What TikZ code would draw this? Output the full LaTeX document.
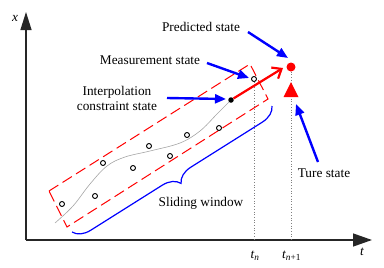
\documentclass[tikz,border=0pt]{standalone}
\usepackage{fontspec}
\setmainfont{Liberation Serif}
\usetikzlibrary{arrows.meta,decorations.pathreplacing}
\begin{document}
\begin{tikzpicture}[x=1pt,y=-1pt,
  lbl/.style={font=\fontsize{13.3}{15.5}\selectfont, inner sep=0pt},
  datapt/.style={circle,draw=black,line width=0.9pt,minimum size=5pt,inner sep=0pt},
  barrow/.style={blue,line width=2.4pt,-{Triangle[length=11pt,width=9pt]}},
  axis/.style={black!85,line width=1.3pt},
  guide/.style={gray,line width=0.7pt,dotted},
  window/.style={red,line width=1pt,dash pattern=on 11pt off 5pt}
]
\useasboundingbox (0,0) rectangle (384,268);
% axes
\coordinate (O) at (26,240);
\coordinate (Xend) at (372,240);
\coordinate (Yend) at (26,12);
\draw[axis,-{Triangle[length=19pt,width=13pt]}] (O) -- (Xend);
\draw[axis,-{Triangle[length=18pt,width=11pt]}] (O) -- (Yend);
\node[lbl,font=\fontsize{13.3}{15.5}\selectfont\itshape] (xl) at (15,18) {x};
\node[lbl,font=\fontsize{13.3}{15.5}\selectfont\itshape] (tl) at (362,252) {t};
% guides
\coordinate (tn) at (254,240);
\coordinate (tn1) at (291,240);
\node[datapt] (m) at (254,79) {};
\node[circle,fill=red,minimum size=9pt,inner sep=0pt] (pred) at (291,67) {};
\draw[guide] (m) -- (tn);
\draw[guide] (pred) -- (tn1);
\node[lbl,anchor=base] (tnl) at (255,258) {\itshape t\textsubscript{\itshape n}};
\node[lbl,anchor=base west] (tn1l) at (282,258) {\itshape t\textsubscript{\itshape n\upshape +1}};
% true state triangle
\fill[red] (291,82) -- (298.5,97) -- (283.5,97) -- cycle;
\coordinate (tri) at (296,104);
% window
\draw[window] (49,191) -- (250,64) -- (268,99) -- (67,227) -- cycle;
% curve
\draw[gray!70,line width=0.6pt] plot[smooth,tension=0.6] coordinates {(55,223) (73,206) (90,184) (107,166) (125,157) (150,151) (180,143) (200,131) (217,114) (231,100)};
% data points
\foreach \p/\q [count=\i] in {62/204,95/196,103/163,133/168,149/146,170/156,187/135,219/128}
  \node[datapt] (d\i) at (\p,\q) {};
\node[circle,fill=black,minimum size=5.5pt,inner sep=0pt] (ic) at (231,100) {};
% red arrow
\coordinate (rtip) at (283,68);
\draw[red,line width=2.2pt,-{Straight Barb[length=8pt,width=13pt]}] (ic) -- (rtip);
% brace
\coordinate (bl) at (72,232);
\coordinate (br) at (272,106);
\draw[blue,line width=1.2pt,decorate,decoration={brace,mirror,amplitude=17pt}] (bl) -- (br);
% labels
\node[lbl] (pl) at (201,27) {Predicted state};
\node[lbl] (ml) at (150,60) {Measurement state};
\node[lbl,align=center] (il) at (117,98.5) {Interpolation\\constraint state};
\node[lbl] (tsl) at (324,173) {Ture state};
\node[lbl] (sw) at (201,203) {Sliding window};
% blue arrows
\coordinate (pa) at (248,32);
\coordinate (pb) at (288,58);
\draw[barrow] (pa) -- (pb);
\coordinate (ma) at (207,63);
\coordinate (mb) at (249,78);
\draw[barrow] (ma) -- (mb);
\coordinate (ia) at (167,98);
\coordinate (ib) at (226,99);
\draw[barrow] (ia) -- (ib);
\coordinate (ta) at (318,162);
\draw[barrow] (ta) -- (tri);
\end{tikzpicture}
\end{document}
